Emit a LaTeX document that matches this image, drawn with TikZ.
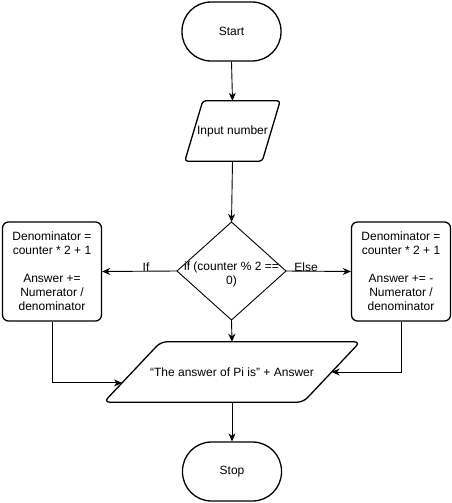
\documentclass[tikz,border=0pt]{standalone}
\usepackage{fontspec}
\setmainfont{Liberation Sans}
\usetikzlibrary{arrows.meta,calc}
\begin{document}
\begin{tikzpicture}[x=1pt,y=-1pt,
  every node/.style={font=\fontsize{12}{14}\selectfont, inner sep=0pt},
  term/.style={draw, line width=1.3pt, rounded corners=29pt, minimum width=99pt, minimum height=59pt},
  procbox/.style={draw, line width=1.3pt, rounded corners=6pt, minimum width=99pt, minimum height=99pt, align=center},
  frame/.style={minimum width=#1, minimum height=60pt},
  shapeline/.style={draw, line width=1.3pt, line join=round},
  conn/.style={line width=0.9pt, -{Stealth[length=8pt,width=7pt,inset=2.5pt]}},
  lbl/.style={font=\fontsize{12}{14}\selectfont}
]
\useasboundingbox (0,0) rectangle (452,503);
% Start
\node[term] (start) at (231.5,31.5) {Start};
% Input
\node[frame=95pt] (inp) at (232.5,131) {Input number};
\draw[shapeline, rounded corners=3pt] ($(inp.north west)+(18,0)$) -- (inp.north east) -- ($(inp.south east)+(-18,0)$) -- (inp.south west) -- cycle;
% Decision
\coordinate (dtop) at (231.5,222);
\coordinate (dbot) at (231.5,320);
\coordinate (dleft) at (177,271);
\coordinate (dright) at (286,271);
\draw[line width=0.9pt, line join=miter] (dtop) -- (dright) -- (dbot) -- (dleft) -- cycle;
\node[align=center] (dec) at (231.5,274) {if (counter \% 2 ==\\0)};
% Boxes
\node[procbox] (lbox) at (52,271.5) {Denominator =\\counter * 2 + 1\\[14pt]Answer +=\\Numerator /\\denominator};
\node[procbox] (rbox) at (401,271.5) {Denominator =\\counter * 2 + 1\\[14pt]Answer += -\\Numerator /\\denominator};
% Output
\node[frame=256pt] (out) at (232,372) {``The answer of Pi is'' + Answer};
\coordinate (oTL) at ($(out.north west)+(57,0)$);
\coordinate (oBR) at ($(out.south east)+(-57,0)$);
\draw[shapeline, rounded corners=6pt] (oTL) -- (out.north east) -- (oBR) -- (out.south west) -- cycle;
\coordinate (outL) at ($(oTL)!0.68!(out.south west)$);
\coordinate (outR) at ($(out.north east)!0.5!(oBR)$);
% Stop
\node[term] (stop) at (232,471.5) {Stop};
% Connectors
\draw[conn] (start.south) -- (inp.north);
\draw[conn] (inp.south) -- (dtop);
\draw[conn] (dbot) -- (out.north);
\draw[conn] (out.south) -- (stop.north);
\draw[conn] (dleft) -- (lbox.east);
\draw[conn] (dright) -- (rbox.west);
\node[lbl] (iflbl) at (146,267) {If};
\node[lbl] (elselbl) at (306,267) {Else};
\draw[conn] (lbox.south) |- (outL);
\draw[conn] (rbox.south) |- (outR);
\end{tikzpicture}
\end{document}
